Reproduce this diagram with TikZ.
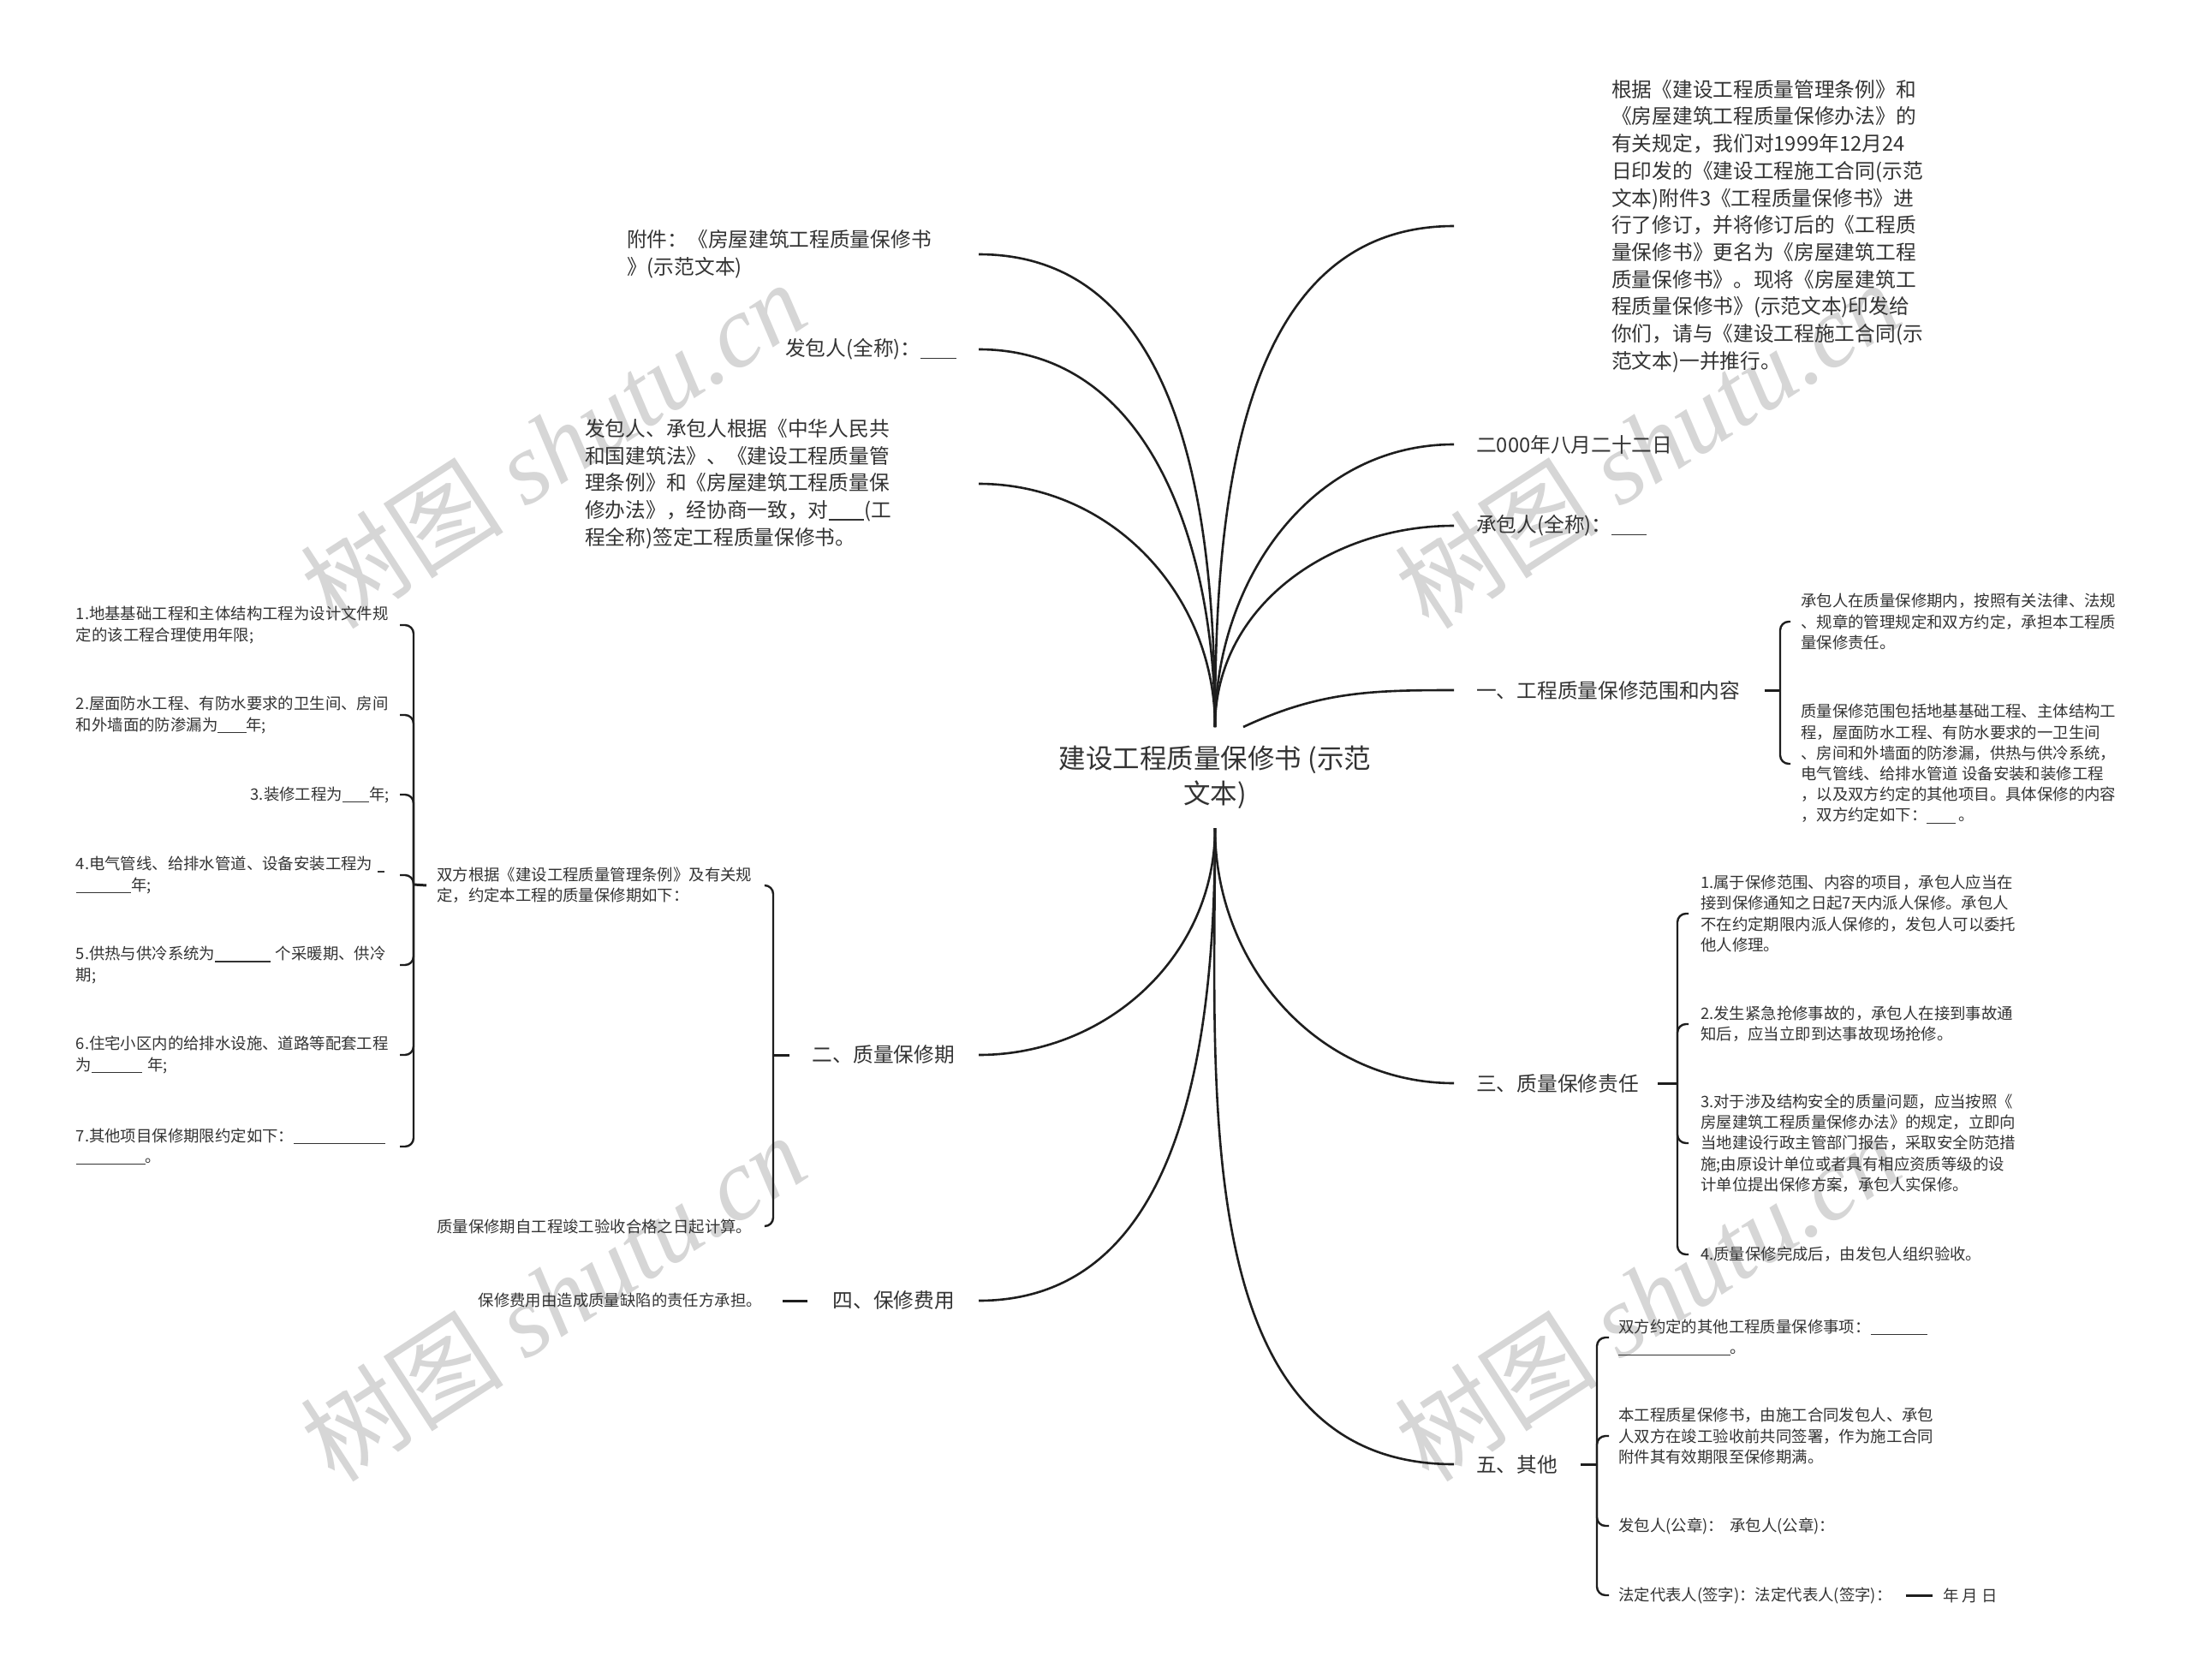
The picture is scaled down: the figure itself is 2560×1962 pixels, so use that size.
\documentclass[tikz,border=0pt]{standalone}
\usepackage{fontspec}
\setmainfont{Noto Sans CJK SC}
\newfontfamily\wmlatin{Liberation Serif}
\usepackage{xcolor}
\definecolor{inktext}{HTML}{333333}
\definecolor{inkline}{HTML}{1E1E1E}
\definecolor{wmgray}{HTML}{D6D6D6}
\usetikzlibrary{positioning,calc}

\newcommand{\bigtext}{\fontsize{23.7pt}{31.7pt}\selectfont}
\newcommand{\smalltext}{\fontsize{18.4pt}{24.2pt}\selectfont}
\newcommand{\roottext}{\fontsize{31.5pt}{41pt}\selectfont}
\newcommand{\blankrule}[1]{\rule[-0.14em]{#1em}{0.055em}}

\begin{document}
\begin{tikzpicture}[
        x=1pt, y=1pt,
        font=\bigtext, text=inktext,
        % --- node styles ---
        rootnode/.style={align=center, inner sep=0pt, font=\roottext},
        topic/.style={align=left, inner sep=0pt, font=\bigtext},
        leaf/.style={align=left, inner sep=0pt, font=\smalltext},
        leafbox/.style={leaf, text width=366pt},
        watermark/.style={text=wmgray, rotate=33, inner sep=0pt,
            font=\fontsize{119pt}{119pt}\selectfont},
        % --- edge styles ---
        branch/.style={draw=inkline, line width=2.6pt},
        brace/.style={draw=inkline, line width=2.4pt, rounded corners=10pt},
        tick/.style={draw=inkline, line width=3pt}
    ]

    % ============================================================
    %  1pt = 1px of the 2560 x 1962 sheet, y runs downwards as -y.
    %  Root in the middle, upper fan and lower fan of branches.
    % ============================================================
    \fill[white] (0,0) rectangle (2560,-1962);
    \useasboundingbox (0,0) rectangle (2560,-1962);

    % --- watermarks (under everything) ---
    \node[watermark] (wm1) at (646,-519)  {树图 {\wmlatin\itshape shutu.cn}};
    \node[watermark] (wm2) at (1924,-519) {树图 {\wmlatin\itshape shutu.cn}};
    \node[watermark] (wm3) at (646,-1515) {树图 {\wmlatin\itshape shutu.cn}};
    \node[watermark] (wm4) at (1924,-1515){树图 {\wmlatin\itshape shutu.cn}};

    % --- root ---
    \node[rootnode] (root) at (1419,-908) {建设工程质量保修书 (示范\\文本)};
    \coordinate (hubT) at ([yshift=59pt]root.center);
    \coordinate (hubR) at ([xshift=33pt,yshift=59pt]root.center);
    \coordinate (hubB) at ([yshift=-59pt]root.center);

    % --- upper left ---
    \node[topic, anchor=west] (fujian) at (732,-297)
        {附件：《房屋建筑工程质量保修书\\》(示范文本)};
    \node[topic, anchor=west] (fbqc) at (917,-408)
        {发包人(全称)：\blankrule{1.75}};
    \node[topic, anchor=west] (basis) at (683,-565)
        {发包人、承包人根据《中华人民共\\和国建筑法》、《建设工程质量管\\理条例》和《房屋建筑工程质量保\\修办法》，经协商一致，对\blankrule{1.75}(工\\程全称)签定工程质量保修书。};

    % --- upper right ---
    \node[topic, anchor=west] (notice) at (1882,-264)
        {根据《建设工程质量管理条例》和\\《房屋建筑工程质量保修办法》的\\有关规定，我们对1999年12月24\\日印发的《建设工程施工合同(示范\\文本)附件3《工程质量保修书》进\\行了修订，并将修订后的《工程质\\量保修书》更名为《房屋建筑工程\\质量保修书》。现将《房屋建筑工\\程质量保修书》(示范文本)印发给\\你们，请与《建设工程施工合同(示\\范文本)一并推行。};
    \node[topic, anchor=west] (date) at (1724,-519) {二000年八月二十二日};
    \node[topic, anchor=west] (cbqc) at (1724,-614) {承包人(全称)：\blankrule{1.7}};
    \node[topic, anchor=west] (scope) at (1724,-806) {一、工程质量保修范围和内容};

    \coordinate (scopeHub) at (2079,-806);
    \node[leaf, anchor=west] (scopeA) at (2103,-726)
        {承包人在质量保修期内，按照有关法律、法规\\、规章的管理规定和双方约定，承担本工程质\\量保修责任。};
    \node[leaf, anchor=west] (scopeB) at (2103,-892)
        {质量保修范围包括地基基础工程、主体结构工\\程，屋面防水工程、有防水要求的一卫生间\\、房间和外墙面的防渗漏，供热与供冷系统，\\电气管线、给排水管道 设备安装和装修工程\\，以及双方约定的其他项目。具体保修的内容\\，双方约定如下：\blankrule{1.8} 。};

    % --- lower right ---
    \node[topic, anchor=west] (resp) at (1724,-1265) {三、质量保修责任};
    \coordinate (respHub) at (1959,-1265);
    \node[leaf, anchor=west] (respA) at (1986,-1067)
        {1.属于保修范围、内容的项目，承包人应当在\\接到保修通知之日起7天内派人保修。承包人\\不在约定期限内派人保修的，发包人可以委托\\他人修理。};
    \node[leaf, anchor=west] (respB) at (1986,-1196)
        {2.发生紧急抢修事故的，承包人在接到事故通\\知后，应当立即到达事故现场抢修。};
    \node[leaf, anchor=west] (respC) at (1986,-1335)
        {3.对于涉及结构安全的质量问题，应当按照《\\房屋建筑工程质量保修办法》的规定，立即向\\当地建设行政主管部门报告，采取安全防范措\\施;由原设计单位或者具有相应资质等级的设\\计单位提出保修方案，承包人实保修。};
    \node[leaf, anchor=west] (respD) at (1986,-1465)
        {4.质量保修完成后，由发包人组织验收。};

    \node[topic, anchor=west] (misc) at (1724,-1710) {五、其他};
    \coordinate (miscHub) at (1865,-1710);
    \node[leaf, anchor=west] (miscA) at (1890,-1562)
        {双方约定的其他工程质量保修事项：\blankrule{3.6}\\\blankrule{7.1}。};
    \node[leaf, anchor=west] (miscB) at (1890,-1677)
        {本工程质星保修书，由施工合同发包人、承包\\人双方在竣工验收前共同签署，作为施工合同\\附件其有效期限至保修期满。};
    \node[leaf, anchor=west] (miscC) at (1890,-1782)
        {发包人(公章)：\hspace{0.4em}承包人(公章)：};
    \node[leaf, anchor=west] (miscD) at (1890,-1863)
        {法定代表人(签字)：法定代表人(签字)：};
    \node[leaf, anchor=west] (sign) at (2269,-1863) {年 月 日};

    % --- lower left ---
    \node[topic, anchor=east] (period) at (1115,-1232) {二、质量保修期};
    \coordinate (periodHub) at (903,-1232);
    \node[leaf, anchor=west] (periodA) at (510,-1034)
        {双方根据《建设工程质量管理条例》及有关规\\定，约定本工程的质量保修期如下：};
    \node[leaf, anchor=west] (periodB) at (510,-1432)
        {质量保修期自工程竣工验收合格之日起计算。};

    \coordinate (termHub) at (483,-1033);
    \node[leafbox, anchor=east] (term1) at (455,-730)
        {1.地基基础工程和主体结构工程为设计文件规\\定的该工程合理使用年限;};
    \node[leafbox, anchor=east] (term2) at (455,-835)
        {2.屋面防水工程、有防水要求的卫生间、房间\\和外墙面的防渗漏为\blankrule{1.8}年;};
    \node[leafbox, anchor=east, align=right] (term3) at (455,-928)
        {3.装修工程为\blankrule{1.7}年;};
    \node[leafbox, anchor=east] (term4) at (455,-1022)
        {4.电气管线、给排水管道、设备安装工程为 \blankrule{0.4}\\\blankrule{3.5}年;};
    \node[leafbox, anchor=east] (term5) at (455,-1127)
        {5.供热与供冷系统为\blankrule{3.5} 个采暖期、供冷\\期;};
    \node[leafbox, anchor=east] (term6) at (455,-1232)
        {6.住宅小区内的给排水设施、道路等配套工程\\为\blankrule{3.2} 年;};
    \node[leafbox, anchor=east] (term7) at (455,-1339)
        {7.其他项目保修期限约定如下：\blankrule{5.8}\\\blankrule{4.4}。};

    \node[topic, anchor=east] (fee) at (1115,-1519) {四、保修费用};
    \node[leaf, anchor=east] (feeA) at (890,-1519)
        {保修费用由造成质量缺陷的责任方承担。};

    % ===== main branches, upper fan =====
    \draw[branch] (hubT) to[out=90,in=0] ([xshift=411pt]fujian.west);
    \draw[branch] (hubT) to[out=90,in=0] ([xshift=226pt]fbqc.west);
    \draw[branch] (hubT) to[out=90,in=0] ([xshift=460pt]basis.west);
    \draw[branch] (hubT) to[out=90,in=180] ([xshift=-184pt]notice.west);
    \draw[branch] (hubT) to[out=90,in=180] ([xshift=-26pt]date.west);
    \draw[branch] (hubT) to[out=90,in=180] ([xshift=-26pt]cbqc.west);
    \draw[branch] (hubR) to[out=25,in=180] ([xshift=-26pt]scope.west);

    % ===== main branches, lower fan =====
    \draw[branch] (hubB) to[out=-90,in=0] ([xshift=28pt]period.east);
    \draw[branch] (hubB) to[out=-90,in=0] ([xshift=28pt]fee.east);
    \draw[branch] (hubB) to[out=-90,in=180] ([xshift=-26pt]resp.west);
    \draw[branch] (hubB) to[out=-90,in=180] ([xshift=-26pt]misc.west);

    % ===== sub-branches: 一 =====
    \draw[tick] ([xshift=28pt]scope.east) -- (scopeHub);
    \draw[brace] (scopeHub) |- ([xshift=-12pt]scopeA.west);
    \draw[brace] (scopeHub) |- ([xshift=-12pt]scopeB.west);

    % ===== sub-branches: 三 =====
    \draw[tick] ([xshift=22pt]resp.east) -- (respHub);
    \draw[brace] (respHub) |- ([xshift=-14pt]respA.west);
    \draw[brace] (respHub) |- ([xshift=-14pt]respB.west);
    \draw[brace] (respHub) |- ([xshift=-14pt]respC.west);
    \draw[brace] (respHub) |- ([xshift=-14pt]respD.west);

    % ===== sub-branches: 五 =====
    \draw[tick] ([xshift=27pt]misc.east) -- (miscHub);
    \draw[brace] (miscHub) |- ([xshift=-11pt]miscA.west);
    \draw[brace] (miscHub) |- ([xshift=-11pt]miscB.west);
    \draw[brace] (miscHub) |- ([xshift=-11pt]miscC.west);
    \draw[brace] (miscHub) |- ([xshift=-11pt]miscD.west);
    \draw[tick] ([xshift=16pt]miscD.east) -- ([xshift=-12pt]sign.west);

    % ===== sub-branches: 二 =====
    \draw[tick] ([xshift=-27pt]period.west) -- (periodHub);
    \draw[brace] (periodHub) |- ([xshift=15pt]periodA.east);
    \draw[brace] (periodHub) |- ([xshift=15pt]periodB.east);

    \draw[tick] ([xshift=-12pt]periodA.west) -- (termHub);
    \draw[brace] (termHub) |- ([xshift=12pt]term1.east);
    \draw[brace] (termHub) |- ([xshift=12pt]term2.east);
    \draw[brace] (termHub) |- ([xshift=12pt]term3.east);
    \draw[brace] (termHub) |- ([xshift=12pt]term4.east);
    \draw[brace] (termHub) |- ([xshift=12pt]term5.east);
    \draw[brace] (termHub) |- ([xshift=12pt]term6.east);
    \draw[brace] (termHub) |- ([xshift=12pt]term7.east);

    % ===== sub-branch: 四 =====
    \draw[tick] ([xshift=-29pt]fee.west) -- ([xshift=24pt]feeA.east);

\end{tikzpicture}
\end{document}
